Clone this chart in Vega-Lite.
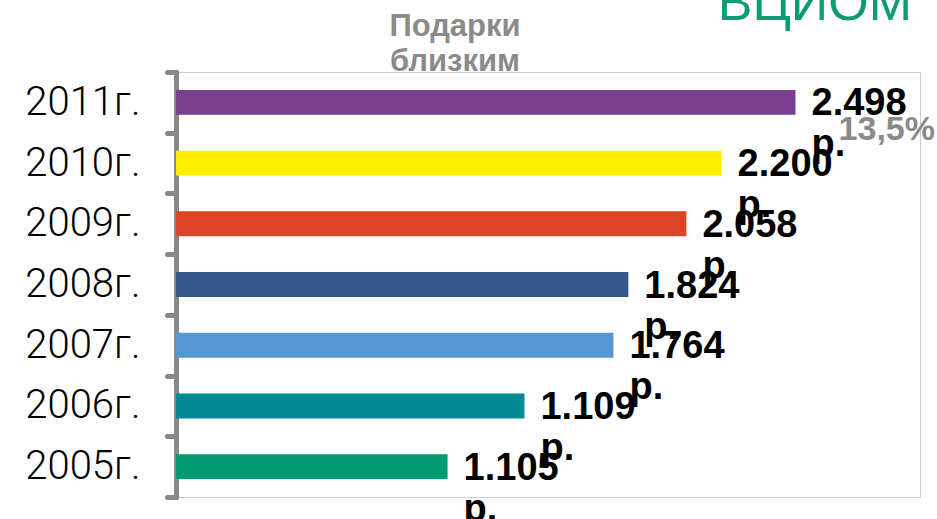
{
  "$schema": "https://vega.github.io/schema/vega-lite/v6.json",
  "width": 744,
  "height": 425,
  "autosize": {"type": "none"},
  "padding": {"left": 176, "top": 72, "right": 17, "bottom": 22},
  "background": "white",
  "config": {"view": {"stroke": "#cccccc", "strokeWidth": 1}},
  "data": {
    "values": [
      {"year": "2011г.", "value": 2498, "label": "2.498\nр."},
      {"year": "2010г.", "value": 2200, "label": "2.200\nр."},
      {"year": "2009г.", "value": 2058, "label": "2.058\nр."},
      {"year": "2008г.", "value": 1824, "label": "1.824\nр."},
      {"year": "2007г.", "value": 1764, "label": "1.764\nр."},
      {"year": "2006г.", "value": 1405, "label": "1.109\nр."},
      {"year": "2005г.", "value": 1095, "label": "1.105\nр."}
    ]
  },
  "encoding": {
    "y": {
      "field": "year",
      "type": "nominal",
      "sort": null,
      "scale": {"paddingInner": 0, "paddingOuter": 0},
      "axis": {
        "title": null,
        "domainColor": "#888888",
        "domainWidth": 5,
        "domainCap": "round",
        "tickColor": "#888888",
        "tickWidth": 5,
        "tickSize": 9,
        "tickCap": "round",
        "tickBand": "extent",
        "labelFont": "Roboto",
        "labelFontWeight": 300,
        "labelFontSize": 40,
        "labelColor": "#000000",
        "labelPadding": 27
      }
    },
    "x": {
      "field": "value",
      "type": "quantitative",
      "scale": {"domain": [0, 3000], "nice": false, "zero": true},
      "axis": null
    }
  },
  "layer": [
    {
      "mark": {"type": "bar", "height": {"band": 0.41}},
      "encoding": {
        "color": {
          "field": "year",
          "type": "nominal",
          "legend": null,
          "scale": {
            "domain": ["2011г.", "2010г.", "2009г.", "2008г.", "2007г.", "2006г.", "2005г."],
            "range": ["#7b3f8f", "#ffec00", "#dc4428", "#37588c", "#5597d3", "#008a96", "#009a72"]
          }
        }
      }
    },
    {
      "mark": {
        "type": "text",
        "align": "left",
        "baseline": "alphabetic",
        "dx": 16,
        "dy": 13,
        "font": "Liberation Sans",
        "fontWeight": "bold",
        "fontSize": 38,
        "lineHeight": 41,
        "lineBreak": "\n",
        "color": "#000000"
      },
      "encoding": {"text": {"field": "label", "type": "nominal"}}
    },
    {
      "data": {"values": [{"note": "Подарки\nблизким", "pos": 1125, "row": "2011г."}]},
      "mark": {
        "type": "text",
        "align": "center",
        "baseline": "alphabetic",
        "dy": -66,
        "font": "Liberation Sans",
        "fontWeight": "bold",
        "fontSize": 31,
        "lineHeight": 35,
        "lineBreak": "\n",
        "color": "#8a8a8a"
      },
      "encoding": {
        "x": {"field": "pos", "type": "quantitative"},
        "y": {"field": "row", "type": "nominal"},
        "text": {"field": "note", "type": "nominal"}
      }
    },
    {
      "data": {"values": [{"note": "13,5%", "pos": 3000, "row": "2011г."}]},
      "mark": {
        "type": "text",
        "align": "right",
        "baseline": "alphabetic",
        "dx": 15,
        "dy": 38,
        "font": "Liberation Sans",
        "fontWeight": "bold",
        "fontSize": 34,
        "color": "#8a8a8a"
      },
      "encoding": {
        "x": {"field": "pos", "type": "quantitative"},
        "y": {"field": "row", "type": "nominal"},
        "text": {"field": "note", "type": "nominal"}
      }
    },
    {
      "data": {"values": [{"note": "ВЦИОМ", "pos": 3000, "row": "2011г."}]},
      "mark": {
        "type": "text",
        "align": "right",
        "baseline": "alphabetic",
        "dx": -8,
        "dy": -82,
        "font": "Liberation Sans",
        "fontSize": 52,
        "color": "#0f9a76"
      },
      "encoding": {
        "x": {"field": "pos", "type": "quantitative"},
        "y": {"field": "row", "type": "nominal"},
        "text": {"field": "note", "type": "nominal"}
      }
    }
  ]
}
